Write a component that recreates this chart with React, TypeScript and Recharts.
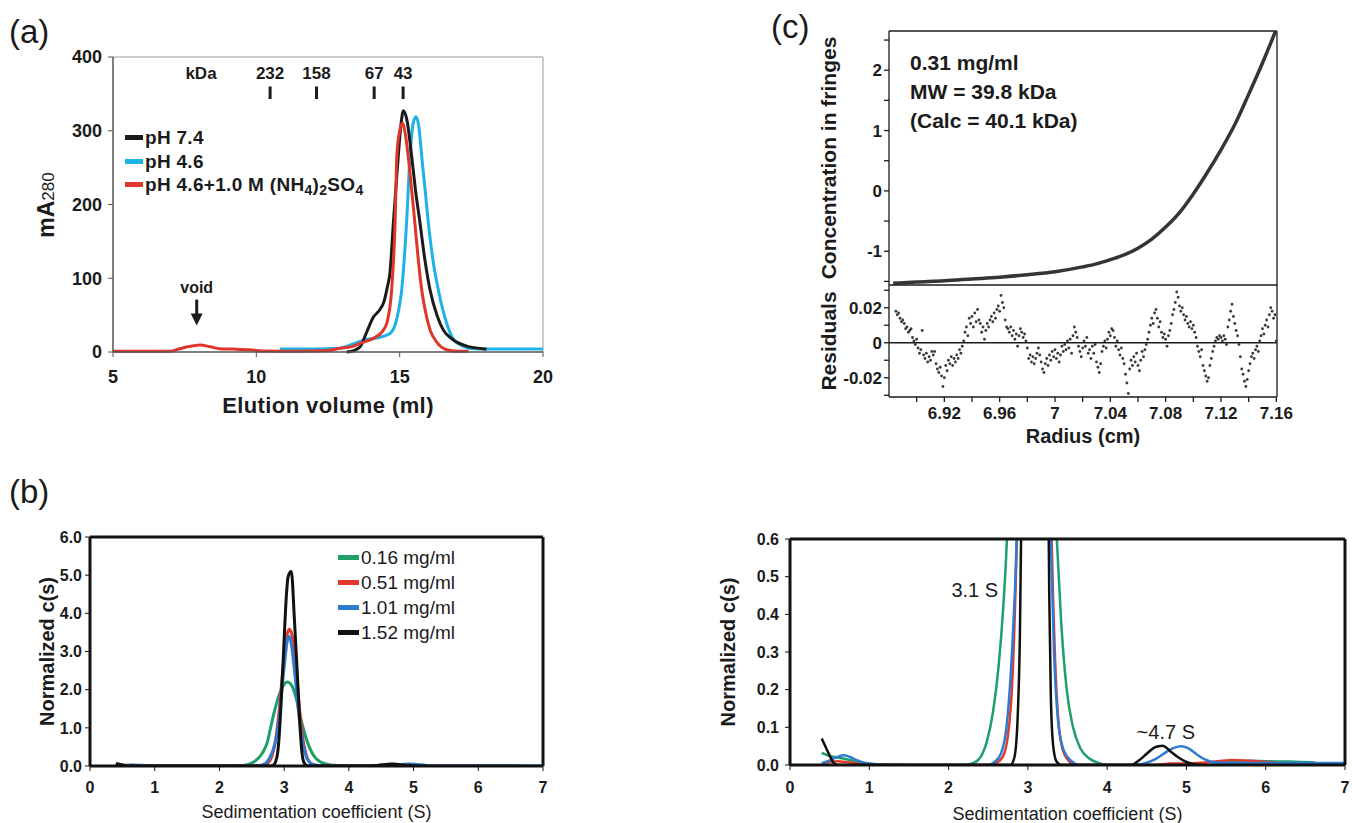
import React from "react";
import {
  LineChart,
  Line,
  ScatterChart,
  Scatter,
  XAxis,
  YAxis,
  Legend,
  ReferenceLine,
  ReferenceDot,
} from "recharts";

const FONT = '"Liberation Sans", Arial, Helvetica, sans-serif';
const INK = "#1b1b1b";

type Pair = [number, number];
const pts = (arr: Pair[]) => arr.map(([x, y]) => ({ x, y }));

// ---------- (a) gel filtration: mA280 vs elution volume (ml) ----------
const elutionPh74: Pair[] = [
  [13.15, 0], [13.4, 2], [13.62, 7], [13.85, 27], [14.08, 47], [14.3, 57], [14.45, 68],
  [14.57, 88], [14.66, 107], [14.78, 175], [14.95, 265], [15.05, 310], [15.13, 327],
  [15.25, 315], [15.42, 265], [15.55, 220], [15.71, 175], [15.88, 125], [16.06, 84],
  [16.3, 50], [16.52, 30], [16.85, 17], [17.34, 8], [17.9, 4.5], [18.03, 4],
];
const elutionPh46: Pair[] = [
  [10.82, 4], [12.0, 4], [12.92, 5], [13.37, 11], [13.85, 17], [14.31, 20], [14.66, 25],
  [14.85, 38], [14.98, 60], [15.07, 84], [15.24, 175], [15.36, 265], [15.47, 310],
  [15.57, 319], [15.67, 305], [15.77, 265], [15.9, 215], [16.0, 175], [16.18, 120],
  [16.35, 84], [16.5, 58], [16.64, 39], [16.86, 18], [17.1, 10], [17.4, 5], [17.8, 4], [20, 4],
];
const elutionPh46Salt: Pair[] = [
  [5, 1], [6.99, 1], [7.3, 4], [7.6, 7], [8.03, 9.5], [8.4, 7], [8.73, 4.5], [9.2, 4],
  [9.78, 3], [10.2, 1.5], [11.5, 1], [12.5, 2], [12.92, 5], [13.3, 7], [13.62, 11.7],
  [14.08, 18.5], [14.4, 28], [14.55, 39], [14.72, 84], [14.84, 175], [14.9, 265],
  [15.0, 300], [15.1, 310], [15.2, 295], [15.36, 243], [15.53, 175], [15.65, 125],
  [15.77, 84], [15.9, 55], [16.06, 30], [16.3, 13], [16.64, 3], [17.0, 1], [17.4, 1],
];
const markerVolume = [10.48, 12.1, 14.11, 15.12];
const markerKDa = ["232", "158", "67", "43"];
const elutionTicks = [5, 10, 15, 20];
const absTicks = [0, 100, 200, 300, 400];

const elutionSeries = [
  { name: "pH 7.4", color: "#1b1b1b", data: elutionPh74 },
  { name: "pH 4.6", color: "#1db3e6", data: elutionPh46 },
  { name: "pH 4.6+1.0 M (NH4)2SO4", color: "#e0352b", data: elutionPh46Salt },
];

// ---------- (b) c(s) distributions ----------
const cs016: Pair[] = [
  [0.4, 0.032], [0.5, 0.024], [0.6, 0.02], [0.7, 0.016], [0.85, 0.009], [1.0, 0.004],
  [1.2, 0.001], [1.5, 0], [2.2, 0], [2.3, 0.004], [2.4, 0.02], [2.48, 0.06], [2.56, 0.14],
  [2.63, 0.26], [2.69, 0.42], [2.74, 0.62], [2.79, 1.0], [2.86, 1.5], [2.95, 1.98],
  [3.05, 2.2], [3.12, 2.1], [3.2, 1.68], [3.27, 1.15], [3.33, 0.78], [3.37, 0.58],
  [3.42, 0.38], [3.49, 0.2], [3.57, 0.1], [3.66, 0.045], [3.77, 0.018], [3.9, 0.005],
  [4.0, 0], [5.3, 0], [5.4, 0.006], [5.6, 0.01], [5.8, 0.011], [6.0, 0.01], [6.3, 0.009],
  [6.6, 0.007], [6.65, 0],
];
const cs051: Pair[] = [
  [0.4, 0.004], [0.5, 0.008], [0.6, 0.01], [0.7, 0.008], [0.9, 0.003], [1.1, 0], [2.5, 0],
  [2.6, 0.005], [2.68, 0.02], [2.75, 0.08], [2.81, 0.25], [2.86, 0.6], [2.92, 1.4],
  [2.99, 2.7], [3.04, 3.4], [3.08, 3.58], [3.12, 3.45], [3.18, 2.6], [3.24, 1.45],
  [3.3, 0.6], [3.34, 0.3], [3.38, 0.13], [3.44, 0.04], [3.52, 0.01], [3.6, 0], [4.6, 0],
  [4.8, 0.004], [5.0, 0.004], [5.2, 0.006], [5.4, 0.01], [5.6, 0.013], [5.8, 0.011],
  [6.0, 0.008], [6.2, 0.004], [6.3, 0],
];
const cs101: Pair[] = [
  [0.4, 0.005], [0.5, 0.012], [0.58, 0.02], [0.67, 0.026], [0.75, 0.022], [0.85, 0.012],
  [0.95, 0.005], [1.1, 0.001], [1.3, 0], [2.5, 0], [2.58, 0.008], [2.66, 0.03], [2.73, 0.1],
  [2.8, 0.3], [2.86, 0.6], [2.93, 1.35], [3.0, 2.6], [3.05, 3.3], [3.07, 3.4], [3.1, 3.3],
  [3.16, 2.5], [3.22, 1.45], [3.29, 0.6], [3.33, 0.3], [3.38, 0.12], [3.45, 0.04],
  [3.55, 0.01], [3.65, 0], [4.35, 0], [4.5, 0.006], [4.62, 0.017], [4.75, 0.035],
  [4.85, 0.046], [4.93, 0.05], [5.02, 0.045], [5.12, 0.03], [5.22, 0.016], [5.35, 0.007],
  [5.5, 0.005], [6.0, 0.005], [6.5, 0.005], [7.0, 0.005],
];
const cs152: Pair[] = [
  [0.4, 0.07], [0.45, 0.048], [0.5, 0.025], [0.55, 0.006], [0.6, 0], [2.78, 0],
  [2.83, 0.02], [2.87, 0.12], [2.9, 0.35], [2.92, 0.7], [2.98, 2.6], [3.04, 4.6],
  [3.06, 4.95], [3.11, 5.1], [3.16, 3.8], [3.21, 2.2], [3.25, 0.9], [3.27, 0.45],
  [3.29, 0.18], [3.32, 0.05], [3.36, 0.01], [3.42, 0], [4.3, 0], [4.4, 0.012], [4.5, 0.03],
  [4.6, 0.047], [4.65, 0.05], [4.7, 0.051], [4.8, 0.036], [4.9, 0.02], [5.0, 0.008],
  [5.1, 0.002], [5.2, 0],
];
const csSeries = [
  { name: "0.16 mg/ml", color: "#1f9f6a", data: cs016 },
  { name: "0.51 mg/ml", color: "#e2392d", data: cs051 },
  { name: "1.01 mg/ml", color: "#2e7bd1", data: cs101 },
  { name: "1.52 mg/ml", color: "#111111", data: cs152 },
];
const sTicks = [0, 1, 2, 3, 4, 5, 6, 7];
const csFullTicks = [0, 1, 2, 3, 4, 5, 6];
const csZoomTicks = [0, 0.1, 0.2, 0.3, 0.4, 0.5, 0.6];

// ---------- (c) sedimentation equilibrium ----------
const fitRadius = [
  6.883, 6.9, 6.92, 6.94, 6.96, 6.98, 7.0, 7.02, 7.03, 7.04, 7.05, 7.06, 7.07, 7.08,
  7.09, 7.1, 7.11, 7.12, 7.13, 7.14, 7.15, 7.16,
];
const fitFringes = [
  -1.53, -1.51, -1.49, -1.46, -1.43, -1.39, -1.34, -1.26, -1.21, -1.14, -1.06, -0.95,
  -0.8, -0.6, -0.36, -0.05, 0.3, 0.68, 1.1, 1.6, 2.12, 2.68,
];
const residuals: Pair[] = [
  [6.885, 0.018], [6.886, 0.016], [6.887, 0.017], [6.888, 0.014], [6.889, 0.012], [6.89, 0.013],
  [6.891, 0.011], [6.892, 0.008], [6.893, 0.009], [6.894, 0.006], [6.895, 0.007], [6.896, 0.008],
  [6.897, 0.003], [6.898, 0.001], [6.899, -0.001], [6.9, 0.002], [6.901, -0.003], [6.902, -0.006],
  [6.903, -0.004], [6.904, 0.007], [6.905, -0.007], [6.906, -0.009], [6.907, -0.006], [6.908, -0.011],
  [6.909, -0.008], [6.91, -0.01], [6.911, -0.005], [6.912, -0.007], [6.913, -0.005], [6.914, -0.012],
  [6.915, -0.015], [6.916, -0.017], [6.917, -0.014], [6.918, -0.019], [6.919, -0.025], [6.92, -0.02],
  [6.921, -0.013], [6.922, -0.016], [6.923, -0.01], [6.924, -0.012], [6.925, -0.008], [6.926, -0.013],
  [6.927, -0.009], [6.928, -0.011], [6.929, -0.007], [6.93, -0.009], [6.931, -0.004], [6.932, -0.006],
  [6.933, -0.002], [6.934, 0.001], [6.935, 0.006], [6.936, 0.009], [6.937, 0.004], [6.938, 0.014],
  [6.939, 0.011], [6.94, 0.015], [6.941, 0.009], [6.942, 0.017], [6.943, 0.012], [6.944, 0.019],
  [6.945, 0.013], [6.946, 0.011], [6.947, 0.006], [6.948, 0.009], [6.949, 0.002], [6.95, 0.007],
  [6.951, 0.011], [6.952, 0.009], [6.953, 0.013], [6.954, 0.015], [6.955, 0.012], [6.956, 0.017],
  [6.957, 0.014], [6.958, 0.019], [6.959, 0.021], [6.96, 0.018], [6.961, 0.027], [6.962, 0.023],
  [6.963, 0.02], [6.964, 0.013], [6.965, 0.009], [6.966, 0.008], [6.967, 0.006], [6.968, 0.009],
  [6.969, 0.004], [6.97, 0.007], [6.971, 0.002], [6.972, 0.005], [6.973, -0.002], [6.974, 0.004],
  [6.975, 0.008], [6.976, 0.006], [6.977, 0.003], [6.978, 0.005], [6.979, 0.001], [6.98, -0.003],
  [6.981, -0.009], [6.982, -0.007], [6.983, -0.011], [6.984, -0.008], [6.985, -0.012], [6.986, -0.009],
  [6.987, -0.006], [6.988, -0.003], [6.989, -0.007], [6.99, -0.011], [6.991, -0.015], [6.992, -0.017],
  [6.993, -0.012], [6.994, -0.009], [6.995, -0.013], [6.996, -0.007], [6.997, -0.01], [6.998, -0.005],
  [6.999, -0.008], [7.0, -0.004], [7.001, -0.009], [7.002, -0.006], [7.003, -0.011], [7.004, -0.007],
  [7.005, -0.002], [7.006, -0.005], [7.007, -0.001], [7.008, -0.004], [7.009, 0.001], [7.01, -0.003],
  [7.011, 0.002], [7.012, -0.006], [7.013, 0.004], [7.014, 0.009], [7.015, 0.006], [7.016, 0.003],
  [7.017, -0.002], [7.018, -0.005], [7.019, -0.008], [7.02, -0.003], [7.021, 0.001], [7.022, -0.002],
  [7.023, 0.003], [7.024, -0.006], [7.025, -0.004], [7.026, -0.009], [7.027, -0.002], [7.028, -0.006],
  [7.029, -0.001], [7.03, -0.011], [7.031, -0.014], [7.032, -0.017], [7.033, -0.012], [7.034, -0.005],
  [7.035, -0.002], [7.036, 0.001], [7.037, -0.003], [7.038, 0.002], [7.039, 0.006], [7.04, 0.004],
  [7.041, 0.008], [7.042, 0.007], [7.043, 0.003], [7.044, -0.002], [7.045, 0.001], [7.046, -0.004],
  [7.047, -0.007], [7.048, -0.003], [7.049, -0.009], [7.05, -0.012], [7.051, -0.018], [7.052, -0.023],
  [7.053, -0.029], [7.054, -0.015], [7.055, -0.01], [7.056, -0.013], [7.057, -0.008], [7.058, -0.011],
  [7.059, -0.006], [7.06, -0.013], [7.061, -0.016], [7.062, -0.01], [7.063, -0.005], [7.064, -0.008],
  [7.065, -0.004], [7.066, -0.001], [7.067, 0.002], [7.068, 0.006], [7.069, 0.01], [7.07, 0.014],
  [7.071, 0.011], [7.072, 0.017], [7.073, 0.019], [7.074, 0.014], [7.075, 0.009], [7.076, 0.012],
  [7.077, 0.006], [7.078, 0.003], [7.079, 0.005], [7.08, 0.002], [7.081, -0.002], [7.082, 0.004],
  [7.083, 0.007], [7.084, 0.011], [7.085, 0.016], [7.086, 0.019], [7.087, 0.023], [7.088, 0.029],
  [7.089, 0.026], [7.09, 0.021], [7.091, 0.018], [7.092, 0.02], [7.093, 0.016], [7.094, 0.013],
  [7.095, 0.015], [7.096, 0.011], [7.097, 0.009], [7.098, 0.012], [7.099, 0.008], [7.1, 0.01],
  [7.101, 0.006], [7.102, 0.003], [7.103, -0.002], [7.104, -0.005], [7.105, -0.008], [7.106, -0.004],
  [7.107, -0.013], [7.108, -0.016], [7.109, -0.019], [7.11, -0.022], [7.111, -0.02], [7.112, -0.013],
  [7.113, -0.009], [7.114, -0.005], [7.115, -0.002], [7.116, 0.001], [7.117, 0.003], [7.118, 0.002],
  [7.119, 0.004], [7.12, 0.003], [7.121, 0.001], [7.122, 0.004], [7.123, 0.002], [7.124, -0.001],
  [7.125, 0.009], [7.126, 0.013], [7.127, 0.018], [7.128, 0.022], [7.129, 0.015], [7.13, 0.011],
  [7.131, 0.007], [7.132, 0.004], [7.133, -0.001], [7.134, -0.008], [7.135, -0.015], [7.136, -0.018],
  [7.137, -0.022], [7.138, -0.025], [7.139, -0.021], [7.14, -0.016], [7.141, -0.012], [7.142, -0.008],
  [7.143, -0.006], [7.144, -0.009], [7.145, -0.004], [7.146, -0.002], [7.147, -0.005], [7.148, 0.001],
  [7.149, 0.004], [7.15, 0.008], [7.151, 0.005], [7.152, 0.01], [7.153, 0.013], [7.154, 0.009],
  [7.155, 0.016], [7.156, 0.02], [7.157, 0.018], [7.158, 0.014], [7.159, 0.016], [7.16, 0.001],
];
const radiusMajor = [6.92, 6.96, 7, 7.04, 7.08, 7.12, 7.16];
const radiusLabels = ["6.92", "6.96", "7", "7.04", "7.08", "7.12", "7.16"];
const radiusMinor = [6.9, 6.94, 6.98, 7.02, 7.06, 7.1, 7.14];
const fringeTicks = [-1.5, -1, -0.5, 0, 0.5, 1, 1.5, 2, 2.5];
const residualTicks = [-0.03, -0.02, -0.01, 0, 0.01, 0.02, 0.03];
const residualLabelled = [-0.02, 0, 0.02];

const near = (a: number, b: number) => Math.abs(a - b) < 1e-9;

// subscripts for the ammonium sulfate legend entry
function chem(name: string) {
  const f = "(NH4)2SO4";
  if (!name.endsWith(f)) return name;
  const sub = { fontSize: 14, verticalAlign: "-0.32em", lineHeight: 0 } as React.CSSProperties;
  return (
    <>
      {name.slice(0, -f.length)}(NH<sub style={sub}>4</sub>)<sub style={sub}>2</sub>SO<sub style={sub}>4</sub>
    </>
  );
}

const ElutionLegend = () => (
  <div style={{ fontFamily: FONT, fontWeight: 700, fontSize: 19, color: INK, lineHeight: "23.5px", whiteSpace: "nowrap", letterSpacing: 0.3 }}>
    {elutionSeries.map((s) => (
      <div key={s.name} style={{ display: "flex", alignItems: "center" }}>
        <span style={{ display: "inline-block", width: 18, height: 5, background: s.color, marginRight: 2 }} />
        <span>{chem(s.name)}</span>
      </div>
    ))}
  </div>
);

const CsLegend = () => (
  <div style={{ fontFamily: FONT, fontSize: 19, color: INK, lineHeight: "25px", whiteSpace: "nowrap" }}>
    {csSeries.map((s) => (
      <div key={s.name} style={{ display: "flex", alignItems: "center" }}>
        <span style={{ display: "inline-block", width: 21, height: 4.5, background: s.color, marginRight: 2 }} />
        <span>{s.name}</span>
      </div>
    ))}
  </div>
);

const AbsLabel = () => (
  <text x={54} y={205} transform="rotate(-90 54 205)" textAnchor="middle" fill={INK} fontFamily={FONT}>
    <tspan fontSize={23} fontWeight={700}>mA</tspan>
    <tspan fontSize={17}>280</tspan>
  </text>
);

const ArrowHead = (p: any) => (
  <polygon points={`${p.cx - 6},${p.cy - 12} ${p.cx + 6},${p.cy - 12} ${p.cx},${p.cy}`} fill={INK} />
);

function ElutionPanel() {
  const tick = { fill: INK, fontSize: 18, fontWeight: 700, fontFamily: FONT };
  const labelStyle = { fill: INK, fontSize: 17, fontWeight: 700, fontFamily: FONT };
  return (
    <LineChart width={580} height={425} margin={{ top: 57, right: 37, bottom: 43, left: 40 }}>
      <XAxis
        type="number" dataKey="x" domain={[5, 20]} ticks={elutionTicks} interval={0}
        tickSize={5} tickMargin={13} height={30} tick={tick}
        axisLine={{ stroke: "#555", strokeWidth: 1.5 }} tickLine={{ stroke: "#555" }}
        label={{ value: "Elution volume (ml)", position: "bottom", offset: 15, fill: INK, fontSize: 22, fontWeight: 700, fontFamily: FONT, letterSpacing: 0.4 }}
      />
      <YAxis
        type="number" domain={[0, 400]} ticks={absTicks} interval={0} width={73}
        tickSize={5} tickMargin={6} tick={tick}
        axisLine={{ stroke: "#555", strokeWidth: 1.5 }} tickLine={{ stroke: "#555" }}
        label={<AbsLabel />}
      />
      {/* thin grey frame on the top and right */}
      <ReferenceLine y={400} stroke="#999" strokeWidth={1} />
      <ReferenceLine x={20} stroke="#999" strokeWidth={1} />
      {[1, 0, 2].map((i) => (
        <Line
          key={elutionSeries[i].name} data={pts(elutionSeries[i].data)} dataKey="y" name={elutionSeries[i].name}
          type="monotone" stroke={elutionSeries[i].color} strokeWidth={3} dot={false} isAnimationActive={false}
        />
      ))}
      {markerVolume.map((v, i) => (
        <ReferenceLine
          key={markerKDa[i]} segment={[{ x: v, y: 343 }, { x: v, y: 360 }]} stroke={INK} strokeWidth={3}
          label={{ value: markerKDa[i], position: "top", offset: 8, ...labelStyle }}
        />
      ))}
      <ReferenceDot x={8.07} y={360} r={0} fill="none" stroke="none" label={{ value: "kDa", position: "top", offset: 8, ...labelStyle }} />
      <ReferenceLine
        segment={[{ x: 7.92, y: 71 }, { x: 7.92, y: 50 }]} stroke={INK} strokeWidth={3}
        label={{ value: "void", position: "top", offset: 7, ...labelStyle, fontSize: 16 }}
      />
      <ReferenceDot x={7.92} y={36} r={0} shape={ArrowHead} />
      <Legend layout="vertical" verticalAlign="middle" align="center" wrapperStyle={{ left: 125, top: 126 }} content={() => <ElutionLegend />} />
    </LineChart>
  );
}

function CsPanel({ zoomed }: { zoomed: boolean }) {
  const tick = { fill: INK, fontSize: 16, fontWeight: 700, fontFamily: FONT };
  const frame = { stroke: "#111", strokeWidth: 3 };
  const yTicks = zoomed ? csZoomTicks : csFullTicks;
  const yMax = zoomed ? 0.6 : 6;
  const annot = { fill: INK, fontSize: 20, fontFamily: FONT };
  return (
    <LineChart
      width={zoomed ? 652 : 580}
      height={343}
      margin={zoomed ? { top: 59, right: 7, bottom: 28, left: 20 } : { top: 57, right: 37, bottom: 27, left: 20 }}
    >
      <XAxis
        type="number" dataKey="x" domain={[0, 7]} ticks={sTicks} interval={0}
        tickSize={5} tickMargin={zoomed ? 12 : 11} height={30} tick={tick}
        axisLine={frame} tickLine={{ stroke: "#111" }}
        label={{ value: "Sedimentation coefficient (S)", position: "bottom", offset: zoomed ? 12 : 9, fill: INK, fontSize: 18, fontFamily: FONT }}
      />
      <YAxis
        type="number" domain={[0, yMax]} allowDataOverflow ticks={yTicks} interval={0} width={70}
        tickSize={5} tickMargin={zoomed ? 6 : 3} tick={tick} tickFormatter={(v: number) => v.toFixed(1)}
        axisLine={frame} tickLine={{ stroke: "#111" }}
        label={{ value: "Normalized c(s)", angle: -90, position: "insideLeft", offset: zoomed ? 8 : 27, style: { textAnchor: "middle" }, fill: INK, fontSize: 20, fontWeight: 700, fontFamily: FONT }}
      />
      {csSeries.map((s) => (
        <Line
          key={s.name} data={pts(s.data)} dataKey="y" name={s.name} type="monotone"
          stroke={s.color} strokeWidth={zoomed ? 2.5 : 3} dot={false} isAnimationActive={false}
        />
      ))}
      {/* heavy frame on the top and right */}
      <ReferenceLine y={yMax} stroke="#111" strokeWidth={3} />
      <ReferenceLine x={7} stroke="#111" strokeWidth={3} />
      {zoomed && <ReferenceDot x={2.33} y={0.465} r={0} fill="none" stroke="none" label={{ value: "3.1 S", position: "center", ...annot }} />}
      {zoomed && <ReferenceDot x={4.74} y={0.088} r={0} fill="none" stroke="none" label={{ value: "~4.7 S", position: "center", ...annot }} />}
      {!zoomed && (
        <Legend layout="vertical" verticalAlign="middle" align="center" wrapperStyle={{ left: 338, top: 65 }} content={() => <CsLegend />} />
      )}
    </LineChart>
  );
}

const fitData = fitRadius.map((r, i) => ({ x: r, y: fitFringes[i] }));
const residualData = pts(residuals);
const radiusTicks = [...radiusMinor, ...radiusMajor].sort((a, b) => a - b);
const radiusDomain: [number, number] = [6.88, 7.1605];
const fringeDomain: [number, number] = [-1.56, 2.65];
const residualDomain: [number, number] = [-0.031, 0.033];

function EquilibriumPanel() {
  const tick = { fill: INK, fontSize: 17, fontWeight: 700, fontFamily: FONT };
  const line = { stroke: INK, strokeWidth: 1.3 };
  const yLabel = { angle: -90, position: "insideLeft" as const, offset: 19, style: { textAnchor: "middle" }, fill: INK, fontSize: 21, fontWeight: 700, fontFamily: FONT };
  return (
    <>
      <div style={{ position: "absolute", left: 780, top: 0 }}>
        <LineChart width={520} height={287} data={fitData} margin={{ top: 31, right: 23, bottom: 2, left: 30 }}>
          <XAxis type="number" dataKey="x" domain={radiusDomain} allowDataOverflow height={0} tick={false} tickLine={false} axisLine={line} />
          <YAxis
            type="number" domain={fringeDomain} allowDataOverflow ticks={fringeTicks} interval={0} width={79}
            tickSize={5} tickMargin={2} tick={tick} axisLine={line} tickLine={line}
            tickFormatter={(v: number) => (Number.isInteger(v) ? String(v) : "")}
            label={{ value: "Concentration in fringes", ...yLabel }}
          />
          <ReferenceLine y={fringeDomain[1]} stroke={INK} strokeWidth={1.3} />
          <ReferenceLine x={radiusDomain[1]} stroke={INK} strokeWidth={1.3} />
          <Line dataKey="y" type="monotone" stroke="#353535" strokeWidth={3.5} dot={false} isAnimationActive={false} />
        </LineChart>
      </div>
      <div style={{ position: "absolute", left: 780, top: 284 }}>
        <ScatterChart width={520} height={180} margin={{ top: 1, right: 23, bottom: 37, left: 30 }}>
          <XAxis
            type="number" dataKey="x" domain={radiusDomain} allowDataOverflow ticks={radiusTicks} interval={0}
            tickSize={5} tickMargin={5} height={30} tick={tick} axisLine={line} tickLine={line}
            tickFormatter={(v: number) => {
              const i = radiusMajor.findIndex((m) => near(m, v));
              return i >= 0 ? radiusLabels[i] : "";
            }}
            label={{ value: "Radius (cm)", position: "bottom", offset: 2, fill: INK, fontSize: 20, fontWeight: 700, fontFamily: FONT }}
          />
          <YAxis
            type="number" dataKey="y" domain={residualDomain} allowDataOverflow ticks={residualTicks} interval={0} width={79}
            tickSize={5} tickMargin={2} tick={tick} axisLine={line} tickLine={line}
            tickFormatter={(v: number) => (residualLabelled.some((l) => near(l, v)) ? (near(v, 0) ? "0" : v.toFixed(2)) : "")}
            label={{ value: "Residuals", ...yLabel }}
          />
          <ReferenceLine y={residualDomain[1]} stroke={INK} strokeWidth={1.3} />
          <ReferenceLine x={radiusDomain[1]} stroke={INK} strokeWidth={1.3} />
          <ReferenceLine y={0} stroke={INK} strokeWidth={1.3} />
          <Scatter
            data={residualData} dataKey="y" isAnimationActive={false}
            shape={(p: any) => <circle cx={p.cx} cy={p.cy} r={1.4} fill="#3a3a3a" />}
          />
        </ScatterChart>
      </div>
    </>
  );
}

const panelLetter: React.CSSProperties = { position: "absolute", fontFamily: FONT, fontSize: 33, lineHeight: "33px", color: INK };

export default function App() {
  return (
    <div style={{ position: "absolute", left: 0, top: 0, width: 1352, height: 823, background: "#fff", overflow: "hidden" }}>
      <div style={{ position: "absolute", left: 0, top: 0 }}>
        <ElutionPanel />
      </div>
      <EquilibriumPanel />
      <div style={{ position: "absolute", left: 0, top: 480 }}>
        <CsPanel zoomed={false} />
      </div>
      <div style={{ position: "absolute", left: 700, top: 480 }}>
        <CsPanel zoomed />
      </div>
      <div style={{ ...panelLetter, left: 9, top: 15 }}>(a)</div>
      <div style={{ ...panelLetter, left: 9, top: 475 }}>(b)</div>
      <div style={{ ...panelLetter, left: 771, top: 10 }}>(c)</div>
      <div style={{ position: "absolute", left: 910, top: 48, fontFamily: FONT, fontWeight: 700, fontSize: 21, lineHeight: "29px", color: INK, whiteSpace: "nowrap" }}>
        <div>0.31 mg/ml</div>
        <div>MW = 39.8 kDa</div>
        <div>(Calc = 40.1 kDa)</div>
      </div>
    </div>
  );
}
